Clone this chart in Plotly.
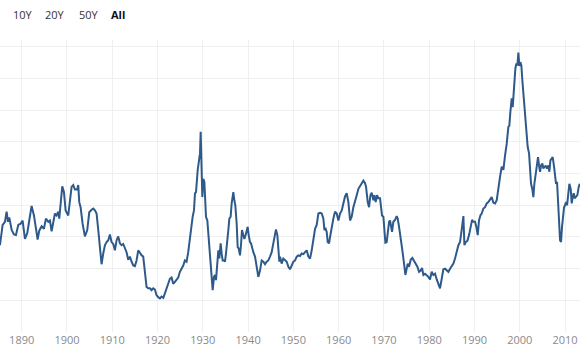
import plotly.graph_objects as go

# Shiller-style CAPE series (year, value)
years = [
    1885.20, 1885.79, 1886.30, 1886.67, 1886.97, 1887.26, 1887.78, 1888.29, 1888.73, 1889.25,
    1889.76, 1890.20, 1890.72, 1891.23, 1891.67, 1892.19, 1892.71, 1893.15, 1893.52, 1893.88,
    1894.40, 1894.91, 1895.35, 1895.87, 1896.24, 1896.61, 1896.97, 1897.34, 1897.71, 1898.08,
    1898.30, 1898.59, 1898.96, 1899.33, 1899.70, 1900.28, 1900.65, 1901.02, 1901.39, 1901.76,
    1902.27, 1902.49, 1902.71, 1903.01, 1903.45, 1903.96, 1904.48, 1904.92, 1905.44, 1905.80,
    1906.17, 1906.54, 1906.91, 1907.28, 1907.64, 1908.01, 1908.38, 1908.75, 1909.12, 1909.48,
    1909.85, 1910.22, 1910.59, 1910.96, 1911.32, 1911.69, 1912.06, 1912.43, 1912.80, 1913.16,
    1913.53, 1913.90, 1914.27, 1914.64, 1915.00, 1915.37, 1915.74, 1916.11, 1916.48, 1916.84,
    1917.21, 1917.58, 1917.95, 1918.32, 1918.68, 1919.05, 1919.42, 1919.79, 1920.16, 1920.52,
    1920.89, 1921.26, 1921.63, 1922.00, 1922.36, 1922.73, 1923.10, 1923.47, 1923.84, 1924.20,
    1924.57, 1924.94, 1925.31, 1925.68, 1926.04, 1926.41, 1926.78,
    1927.17, 1927.54, 1927.76, 1928.05, 1928.27, 1928.50, 1928.64, 1928.86, 1929.16, 1929.38,
    1929.53, 1929.75, 1929.89, 1930.11, 1930.34, 1930.48, 1930.70, 1931.00, 1931.22, 1931.44,
    1931.73, 1931.96, 1932.18, 1932.47, 1932.69, 1932.91, 1933.21, 1933.43, 1933.65, 1933.94,
    1934.16, 1934.38, 1934.68, 1934.90, 1935.12, 1935.41, 1935.64, 1935.86, 1936.15, 1936.37,
    1936.59, 1936.74, 1936.96, 1937.18, 1937.48, 1937.70, 1937.92, 1938.21, 1938.43, 1938.65,
    1938.95, 1939.17, 1939.46, 1939.68, 1939.91, 1940.13, 1940.42, 1940.64, 1940.86, 1941.16,
    1941.53, 1941.89, 1942.26, 1942.63, 1943.00, 1943.37, 1943.73, 1944.10, 1944.47, 1944.84,
    1945.21, 1945.57, 1945.94, 1946.16, 1946.46, 1946.68, 1946.90, 1947.05, 1947.41, 1947.78,
    1948.16, 1948.53, 1948.90, 1949.26, 1949.63, 1950.00, 1950.37, 1950.74, 1951.10, 1951.47,
    1951.84, 1952.21, 1952.58, 1952.95, 1953.31, 1953.68, 1954.05, 1954.42, 1954.79, 1955.15,
    1955.52, 1955.89, 1956.26, 1956.63, 1956.85, 1957.14, 1957.36, 1957.58, 1957.88, 1958.10,
    1958.47, 1958.83, 1959.20, 1959.57, 1959.94, 1960.31, 1960.68, 1961.04, 1961.41, 1961.78,
    1962.15, 1962.52, 1962.88, 1963.25, 1963.62, 1963.99, 1964.36, 1964.72, 1965.09, 1965.46,
    1965.83, 1966.05, 1966.42, 1966.71, 1967.01, 1967.30, 1967.67, 1967.89, 1968.18, 1968.48,
    1968.77,
    1969.14, 1969.36, 1969.58, 1969.88, 1970.10, 1970.32, 1970.61, 1970.83, 1971.13, 1971.35,
    1971.57, 1971.79, 1972.08, 1972.45, 1972.82, 1973.04, 1973.34, 1973.70, 1974.07, 1974.44,
    1974.74, 1975.03, 1975.25, 1975.54, 1975.91, 1976.28, 1976.65, 1977.02, 1977.39, 1977.75,
    1978.12, 1978.42, 1978.71, 1979.08, 1979.45, 1979.81, 1980.18, 1980.55, 1980.92, 1981.29,
    1981.66, 1982.02, 1982.39, 1982.76, 1983.13, 1983.50, 1983.86, 1984.23, 1984.60, 1984.97,
    1985.34, 1985.70, 1986.07, 1986.44, 1986.81, 1987.03, 1987.25, 1987.55, 1987.77, 1988.06,
    1988.43, 1988.80, 1989.16, 1989.46, 1989.75,
    1990.12, 1990.41, 1990.71, 1991.00, 1991.30, 1991.59, 1991.96, 1992.33, 1992.70, 1993.06,
    1993.43, 1993.80, 1994.17, 1994.54, 1994.91, 1995.27, 1995.64, 1996.01, 1996.38, 1996.75,
    1997.11, 1997.48, 1997.70, 1997.92, 1998.22, 1998.44, 1998.73, 1999.03, 1999.25, 1999.47,
    1999.69, 1999.91, 2000.13, 2000.35, 2000.57, 2000.87, 2001.16, 2001.46, 2001.75, 2002.05,
    2002.27, 2002.49, 2002.78, 2003.00, 2003.22, 2003.52, 2003.81, 2004.03, 2004.25, 2004.48,
    2004.70, 2004.99, 2005.21, 2005.43, 2005.73, 2006.02, 2006.32, 2006.54, 2006.76, 2007.05,
    2007.27, 2007.57, 2007.79, 2008.01, 2008.23, 2008.45, 2008.67, 2008.89, 2009.11, 2009.33,
    2009.56, 2009.78, 2010.00, 2010.22, 2010.44, 2010.66, 2010.95, 2011.25, 2011.47, 2011.69,
    2011.91, 2012.13, 2012.43, 2012.72, 2013.02, 2013.24,
]

cape = [
    13.7, 16.9, 17.4, 19.0, 17.4, 18.1, 16.1, 15.4, 15.3, 16.9,
    17.1, 17.6, 14.7, 15.6, 17.6, 19.9, 18.4, 16.1, 14.6, 16.0,
    16.7, 16.3, 17.9, 17.4, 17.6, 15.9, 17.6, 18.7, 18.4, 19.0,
    17.9, 20.5, 23.0, 22.1, 19.2, 18.4, 20.3, 22.9, 23.2, 22.5,
    22.5, 23.2, 20.5, 19.7, 17.1, 15.1, 16.1, 18.9, 19.3, 19.5,
    19.2, 18.7, 16.1, 12.9, 10.7, 12.4, 13.7, 14.2, 14.5, 15.4,
    14.2, 13.9, 12.9, 14.5, 15.1, 14.0, 13.7, 13.9, 13.3, 12.6,
    11.4, 11.9, 11.1, 10.5, 10.4, 11.3, 12.9, 12.4, 12.1, 11.9,
    9.7, 7.1, 6.9, 6.9, 6.6, 6.9, 6.7, 5.8, 5.5, 5.3,
    5.6, 5.4, 6.1, 6.9, 7.9, 8.4, 8.6, 7.6, 7.9, 8.3,
    8.6, 9.5, 10.0, 10.5, 11.3, 11.1, 12.6,
    15.0, 17.1, 18.2, 19.2, 21.9, 22.1, 24.2, 25.5, 27.1, 28.2,
    31.6, 26.6, 21.3, 24.2, 23.7, 21.6, 18.2, 17.6, 15.3, 14.0,
    11.3, 8.7, 6.6, 8.7, 9.0, 8.2, 10.3, 12.9, 11.6, 14.0,
    12.4, 11.3, 11.3, 11.1, 12.4, 14.0, 16.1, 17.9, 18.2, 20.3,
    21.1, 22.1, 20.8, 20.0, 17.1, 13.4, 13.2, 12.1, 13.7, 16.1,
    15.3, 14.7, 15.3, 16.1, 16.6, 15.3, 14.2, 14.0, 13.2, 12.6,
    11.9, 10.3, 8.7, 9.7, 11.3, 11.1, 10.7, 11.1, 11.3, 11.9,
    12.6, 14.0, 15.8, 16.2, 15.3, 12.6, 11.1, 11.9, 10.8, 11.6,
    11.3, 11.1, 10.3, 9.9, 10.5, 11.1, 11.3, 11.9, 12.1, 12.0,
    12.4, 12.3, 12.6, 12.9, 11.9, 11.6, 12.9, 14.5, 16.3, 16.9,
    18.7, 18.8, 18.7, 17.9, 16.1, 16.3, 15.8, 14.2, 14.0, 15.0,
    16.6, 17.9, 19.0, 18.7, 17.6, 18.7, 19.2, 20.3, 21.4, 21.9,
    20.5, 17.6, 18.2, 19.7, 20.5, 21.6, 22.6, 23.0, 23.4, 23.9,
    23.5, 22.9, 20.5, 19.7, 21.6, 22.0, 20.8, 21.6, 20.5, 21.6,
    21.1,
    21.1, 19.7, 18.4, 18.2, 15.5, 14.1, 14.2, 16.1, 17.4, 17.6,
    16.9, 15.8, 17.4, 17.7, 18.3, 17.9, 16.6, 15.0, 12.9, 10.8,
    9.0, 10.0, 10.8, 10.3, 11.4, 11.7, 11.3, 10.8, 10.3, 9.5,
    9.7, 10.1, 9.0, 9.2, 9.0, 8.7, 8.3, 9.5, 9.0, 9.2,
    8.3, 7.4, 6.9, 8.4, 9.9, 10.0, 9.7, 9.5, 10.0, 10.5,
    10.8, 11.6, 12.9, 13.7, 14.2, 15.8, 16.6, 18.3, 13.7, 14.2,
    14.4, 15.3, 16.6, 17.7, 17.4,
    17.4, 16.6, 15.3, 17.6, 18.4, 18.7, 19.5, 19.7, 20.3, 20.5,
    20.9, 21.3, 20.4, 20.3, 20.8, 22.9, 24.5, 26.1, 25.6, 27.9,
    29.7, 32.4, 32.6, 34.7, 36.9, 35.5, 38.7, 41.6, 42.4, 42.1,
    44.1, 42.0, 42.6, 42.1, 39.7, 36.6, 34.0, 30.8, 29.2, 28.2,
    25.0, 23.4, 22.5, 21.3, 23.4, 25.0, 26.1, 27.6, 26.3, 25.3,
    26.3, 26.6, 25.8, 26.1, 26.2, 25.8, 26.3, 25.3, 27.1, 27.4,
    27.6, 26.1, 24.5, 23.4, 23.7, 21.3, 17.6, 14.5, 14.2, 16.6,
    18.7, 19.7, 20.0, 20.5, 20.0, 21.3, 23.4, 22.6, 20.3, 21.3,
    21.9, 21.1, 21.3, 21.6, 22.9, 23.4,
]

tick_years = [1890, 1900, 1910, 1920, 1930, 1940, 1950, 1960, 1970, 1980, 1990, 2000, 2010]
y_ticks = [0, 5, 10, 15, 20, 25, 30, 35, 40, 45]
range_buttons = ["10Y", "20Y", "50Y", "All"]
selected_button = "All"

W, H = 580, 360
M_TOP, M_BOT = 40, 28
plot_h = H - M_TOP - M_BOT

fig = go.Figure()
fig.add_trace(go.Scatter(
    x=years, y=cape, mode="lines",
    line=dict(color="#2e5a8b", width=2),
    hoverinfo="skip", showlegend=False,
))

button_x = [23, 55, 89, 118]
for label, bx in zip(range_buttons, button_x):
    bold = label == selected_button
    fig.add_annotation(
        x=bx / W, y=1 + (M_TOP - 14) / plot_h, xref="paper", yref="paper",
        yanchor="middle", xanchor="center", showarrow=False,
        text=f"<b>{label}</b>" if bold else label,
        font=dict(family="Open Sans, Noto Sans, sans-serif", size=11,
                  color="#111111" if bold else "#333333"),
    )

fig.update_layout(
    width=W, height=H,
    margin=dict(l=0, r=0, t=M_TOP, b=M_BOT, autoexpand=False),
    paper_bgcolor="white", plot_bgcolor="white",
    font=dict(family="Open Sans, Noto Sans, sans-serif"),
    hovermode=False,
    xaxis=dict(
        range=[1885.21, 2013.3], tickvals=tick_years,
        ticktext=[str(t) for t in tick_years],
        showgrid=True, gridcolor="#efefef", gridwidth=1,
        zeroline=False, showline=False, ticks="", automargin=False,
        tickfont=dict(size=11, color="#8a8a8a"),
    ),
    yaxis=dict(
        range=[0, 46.1], tickvals=y_ticks, showticklabels=False,
        showgrid=True, gridcolor="#efefef", gridwidth=1,
        zeroline=False, showline=False, ticks="", automargin=False,
    ),
)

fig.write_html(
    "out.html",
    config={"displayModeBar": False},
    post_script="document.body.style.margin='0';document.body.style.overflow='hidden';",
)
